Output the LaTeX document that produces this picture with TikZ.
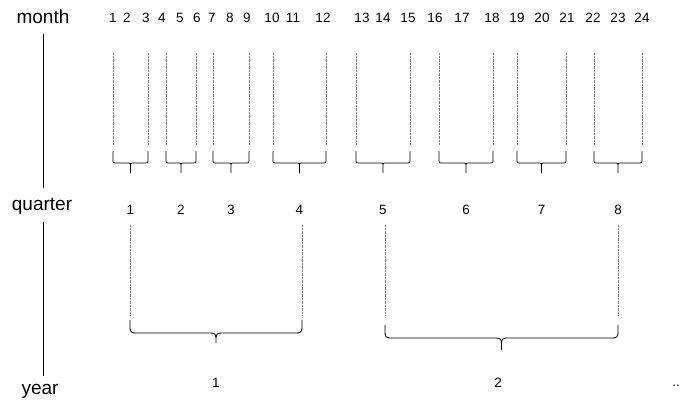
\documentclass[tikz,border=0pt]{standalone}
\usepackage{fontspec}
\setmainfont{Liberation Sans}
\usetikzlibrary{calc}

% curly brace: left x, right x, top y, middle y, tip y, corner radius
\newcommand{\curlybrace}[6]{%
    \pgfmathsetmacro{\bm}{(#1+#2)/2}%
    \draw[line width=0.8pt] (#1,#3) -- (#1,#4-#6) .. controls (#1,#4) .. (#1+#6,#4)
        -- (\bm-#6,#4) .. controls (\bm,#4) .. (\bm,#4+#6) -- (\bm,#5)
        -- (\bm,#4+#6) .. controls (\bm,#4) .. (\bm+#6,#4) -- (#2-#6,#4)
        .. controls (#2,#4) .. (#2,#4-#6) -- (#2,#3);%
}

\begin{document}
\begin{tikzpicture}[x=1pt, y=-1pt,
    lab/.style={font=\fontsize{19}{21}\selectfont},
    num/.style={font=\fontsize{13.5}{15}\selectfont, inner sep=1pt},
    guide/.style={densely dotted, gray, line width=0.4pt}]
    \useasboundingbox (0,0) rectangle (686,404);

    % Left labels
    \node[lab] (month) at (43,17) {month};
    \node[lab] (quarter) at (42,206) {quarter};
    \node[lab] (year) at (40,391) {year};
    \draw[line width=0.7pt] ([yshift=-6pt]month.south) -- ([yshift=6pt]month.south |- quarter.north);
    \draw[line width=0.7pt] ([yshift=-4pt]quarter.south -| month.south) -- ([yshift=4pt]month.south |- year.north);

    % Months
    \foreach \x [count=\i] in {113,127,146,162,180,197,212,230,247,272,293,323,
                               362,383,408,435,462,492,517,542,567,593,618,642} {
        \node[num] (m\i) at (\x,18) {\i};
    }

    % Quarters
    \foreach \l/\r [count=\q] in {113/148, 166/196, 213/249, 273/326,
                                  356/410, 439/493, 517/566, 594/642} {
        \draw[guide] (\l,53) -- (\l,145);
        \draw[guide] (\r,53) -- (\r,145);
        \curlybrace{\l}{\r}{151}{163}{173}{4}
        \node[num] (q\q) at ({(\l+\r)/2},210) {\q};
    }

    % Years
    \foreach \l/\r/\t/\h/\e [count=\k] in {130/302/320/333/343, 385/618/325/338/350} {
        \draw[guide] (\l,225) -- (\l,315);
        \draw[guide] (\r,225) -- (\r,315);
        \curlybrace{\l}{\r}{\t}{\h}{\e}{9}
    }
    \node[num] (y1) at (216,383) {1};
    \node[num] (y2) at (498,383) {2};
    \node[num] (more) at (676,386) {..};
\end{tikzpicture}
\end{document}
